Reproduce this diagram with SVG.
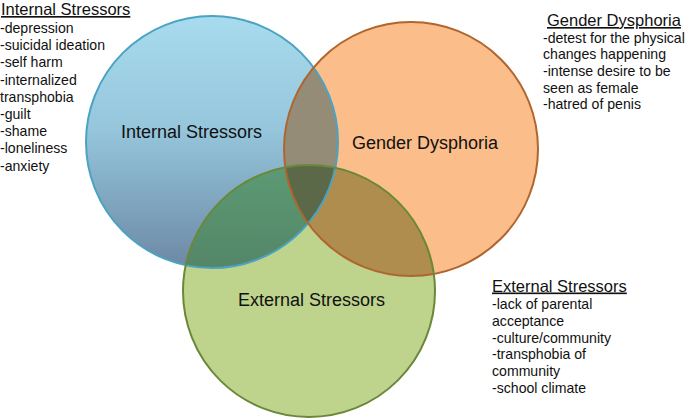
<svg xmlns="http://www.w3.org/2000/svg" width="690" height="420" viewBox="0 0 690 420">
<style>
text{font-family:"Liberation Sans",Arial,Helvetica,sans-serif;fill:#111}
.lbl{font-size:18px}
.ttl{font-size:16.5px;text-decoration:underline}
.itm{font-size:14.1px}
.edge{fill:none;stroke-width:2}
</style>
<defs>
<linearGradient id="gBlue" x1="0" y1="0" x2="0" y2="1">
<stop offset="0" stop-color="#a9dbee"/>
<stop offset="0.45" stop-color="#95c6dc"/>
<stop offset="1" stop-color="#6c88a4"/>
</linearGradient>
<linearGradient id="gBG" x1="0" y1="0" x2="0" y2="1">
<stop offset="0" stop-color="#5c9a74"/>
<stop offset="1" stop-color="#486a55"/>
</linearGradient>
<clipPath id="cBlue"><circle cx="212" cy="142" r="126"/></clipPath>
<clipPath id="cOrange"><circle cx="411" cy="149" r="127"/></clipPath>
</defs>

<g id="circles">
<g id="internal-circle">
<circle cx="212" cy="142" r="126" fill="url(#gBlue)"/>
</g>
<g id="gender-circle">
<circle cx="411" cy="149" r="127" fill="#fbbd89"/>
</g>
<g id="external-circle">
<circle cx="309" cy="291" r="126" fill="#bed48d"/>
</g>
<g id="overlaps">
<circle cx="411" cy="149" r="127" fill="#958c78" clip-path="url(#cBlue)"/>
<circle cx="309" cy="291" r="126" fill="url(#gBG)" clip-path="url(#cBlue)"/>
<circle cx="309" cy="291" r="126" fill="#ae8d4e" clip-path="url(#cOrange)"/>
<g clip-path="url(#cBlue)">
<circle cx="309" cy="291" r="126" fill="#5b6948" clip-path="url(#cOrange)"/>
</g>
</g>
<g id="outlines">
<circle class="edge" cx="212" cy="142" r="126" stroke="#4ba3c3"/>
<circle class="edge" cx="411" cy="149" r="127" stroke="#b0652c"/>
<circle class="edge" cx="309" cy="291" r="126" stroke="#6b8838"/>
</g>
</g>

<g id="circle-labels">
<text class="lbl" x="121" y="138">Internal Stressors</text>
<text class="lbl" x="352" y="149">Gender Dysphoria</text>
<text class="lbl" x="238" y="306">External Stressors</text>
</g>

<g id="internal-list">
<text class="ttl" x="1" y="15">Internal Stressors</text>
<text class="itm" x="0" y="33">-depression</text>
<text class="itm" x="0" y="50.2">-suicidal ideation</text>
<text class="itm" x="0" y="67.4">-self harm</text>
<text class="itm" x="0" y="84.6">-internalized</text>
<text class="itm" x="0" y="101.8">transphobia</text>
<text class="itm" x="0" y="119">-guilt</text>
<text class="itm" x="0" y="136.2">-shame</text>
<text class="itm" x="0" y="153.4">-loneliness</text>
<text class="itm" x="0" y="170.6">-anxiety</text>
</g>

<g id="gender-list">
<text class="ttl" x="547" y="26">Gender Dysphoria</text>
<text class="itm" x="543" y="42.5">-detest for the physical</text>
<text class="itm" x="543" y="59.2">changes happening</text>
<text class="itm" x="543" y="75.9">-intense desire to be</text>
<text class="itm" x="543" y="92.6">seen as female</text>
<text class="itm" x="543" y="109.3">-hatred of penis</text>
</g>

<g id="external-list">
<text class="ttl" x="492" y="291.5">External Stressors</text>
<text class="itm" x="492" y="309.3">-lack of parental</text>
<text class="itm" x="492" y="326">acceptance</text>
<text class="itm" x="492" y="342.7">-culture/community</text>
<text class="itm" x="492" y="359.4">-transphobia of</text>
<text class="itm" x="492" y="376.1">community</text>
<text class="itm" x="492" y="392.8">-school climate</text>
</g>
</svg>
